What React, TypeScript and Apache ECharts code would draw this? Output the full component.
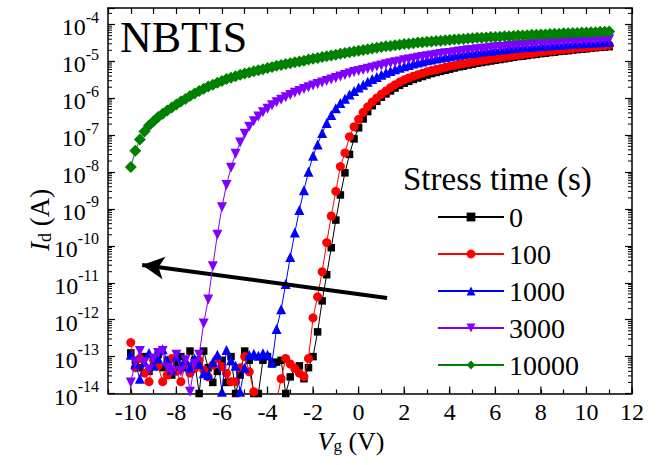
import React, { useEffect, useRef } from "react";
import * as echarts from "echarts";

// Gate voltage sweep (V)
const VG = [
  -10, -9.8, -9.6, -9.4, -9.2, -9, -8.8, -8.6, -8.4, -8.2,
  -8, -7.8, -7.6, -7.4, -7.2, -7, -6.8, -6.6, -6.4, -6.2,
  -6, -5.8, -5.6, -5.4, -5.2, -5, -4.8, -4.6, -4.4, -4.2,
  -4, -3.8, -3.6, -3.4, -3.2, -3, -2.8, -2.6, -2.4, -2.2,
  -2, -1.8, -1.6, -1.4, -1.2, -1, -0.8, -0.6, -0.4, -0.2,
  0, 0.2, 0.4, 0.6, 0.8, 1, 1.2, 1.4, 1.6, 1.8,
  2, 2.2, 2.4, 2.6, 2.8, 3, 3.2, 3.4, 3.6, 3.8,
  4, 4.2, 4.4, 4.6, 4.8, 5, 5.2, 5.4, 5.6, 5.8,
  6, 6.2, 6.4, 6.6, 6.8, 7, 7.2, 7.4, 7.6, 7.8,
  8, 8.2, 8.4, 8.6, 8.8, 9, 9.2, 9.4, 9.6, 9.8,
  10, 10.2, 10.4, 10.6, 10.8, 11,
];

// log10(Id / A) for each stress time
const LOG_ID_0 = [
  -12.9, -13.1, -13.3, -13.0, -13.4, -13.2, -12.95, -13.3, -13.1, -13.5,
  -13.2, -13.0, -13.3, -12.85, -13.1, -14.0, -12.85, -13.3, -13.7, -13.4,
  -13.1, -13.7, -13.0, -14.0, -13.5, -12.85, -13.1, -14.0, -14.0, -13.1,
  -13.0, -13.2, -13.15, -13.1, -14.0, -13.55, -13.3, -13.25, -13.6, -13.3,
  -13.0, -12.33, -11.49, -10.78, -10.05, -9.3, -8.62, -8.02, -7.52, -7.1,
  -6.8, -6.56, -6.36, -6.2, -6.08, -5.97, -5.88, -5.8, -5.72, -5.65,
  -5.59, -5.54, -5.49, -5.45, -5.41, -5.37, -5.33, -5.3, -5.27, -5.24,
  -5.21, -5.18, -5.15, -5.13, -5.1, -5.08, -5.05, -5.03, -5.01, -4.99,
  -4.97, -4.95, -4.93, -4.91, -4.89, -4.87, -4.86, -4.84, -4.82, -4.81,
  -4.79, -4.78, -4.76, -4.75, -4.73, -4.72, -4.71, -4.69, -4.68, -4.67,
  -4.66, -4.64, -4.63, -4.62, -4.61, -4.6,
];
const LOG_ID_100 = [
  -12.62, -13.3, -13.05, -13.45, -13.68, -13.09, -13.25, -13.68, -13.5, -13.05,
  -13.4, -13.68, -13.2, -13.45, -13.32, -13.1, -13.36, -13.55, -13.23, -13.05,
  -13.27, -13.45, -13.68, -13.68, -13.3, -13.0, -13.41, -13.95, -14.4, -14.6,
  -14.3, -14.5, -14.2, -13.6, -13.05, -13.2, -13.32, -13.45, -13.54, -13.05,
  -11.95, -11.38, -10.7, -9.91, -9.19, -8.52, -7.85, -7.48, -7.04, -6.77,
  -6.57, -6.38, -6.23, -6.1, -5.99, -5.89, -5.8, -5.71, -5.63, -5.56,
  -5.5, -5.45, -5.4, -5.36, -5.32, -5.28, -5.25, -5.22, -5.19, -5.16,
  -5.13, -5.11, -5.08, -5.06, -5.04, -5.01, -4.99, -4.97, -4.95, -4.93,
  -4.91, -4.9, -4.88, -4.86, -4.84, -4.83, -4.81, -4.79, -4.78, -4.76,
  -4.75, -4.73, -4.72, -4.71, -4.69, -4.68, -4.67, -4.65, -4.64, -4.63,
  -4.62, -4.61, -4.6, -4.59, -4.57, -4.56,
];
const LOG_ID_1000 = [
  -12.95, -13.2, -13.6, -13.15, -12.9, -13.25, -13.05, -12.8, -13.1, -13.35,
  -13.0, -13.25, -13.1, -13.3, -13.05, -13.2, -13.45, -13.5, -13.15, -12.95,
  -13.95, -12.82, -13.1, -13.25, -13.95, -13.3, -12.96, -12.92, -12.98, -12.91,
  -12.95, -13.15, -12.25, -11.72, -11.03, -10.3, -9.64, -9.03, -8.49, -7.99,
  -7.56, -7.25, -6.94, -6.67, -6.45, -6.27, -6.13, -6.01, -5.9, -5.8,
  -5.71, -5.63, -5.55, -5.48, -5.42, -5.36, -5.31, -5.26, -5.21, -5.17,
  -5.13, -5.1, -5.06, -5.03, -5.0, -4.97, -4.95, -4.92, -4.9, -4.88,
  -4.86, -4.84, -4.82, -4.8, -4.78, -4.77, -4.75, -4.74, -4.72, -4.71,
  -4.69, -4.68, -4.67, -4.65, -4.64, -4.63, -4.62, -4.61, -4.6, -4.59,
  -4.58, -4.57, -4.56, -4.55, -4.54, -4.54, -4.53, -4.52, -4.51, -4.51,
  -4.5, -4.49, -4.49, -4.48, -4.47, -4.47,
];
const LOG_ID_3000 = [
  -13.7, -13.15, -12.85, -13.15, -13.35, -13.05, -12.9, -12.85, -13.3, -13.4,
  -12.95, -13.4, -13.1, -13.95, -13.2, -12.95, -12.1, -11.45, -10.55, -9.7,
  -8.95, -8.35, -7.88, -7.5, -7.2, -6.96, -6.77, -6.62, -6.49, -6.38,
  -6.28, -6.19, -6.11, -6.04, -5.97, -5.91, -5.85, -5.8, -5.75, -5.7,
  -5.65, -5.61, -5.57, -5.53, -5.49, -5.45, -5.41, -5.37, -5.33, -5.29,
  -5.26, -5.23, -5.2, -5.17, -5.14, -5.11, -5.08, -5.05, -5.02, -5.0,
  -4.97, -4.95, -4.93, -4.9, -4.88, -4.86, -4.84, -4.82, -4.8, -4.78,
  -4.77, -4.75, -4.73, -4.72, -4.7, -4.69, -4.67, -4.66, -4.65, -4.63,
  -4.62, -4.61, -4.6, -4.58, -4.57, -4.56, -4.55, -4.54, -4.53, -4.52,
  -4.51, -4.5, -4.5, -4.49, -4.48, -4.47, -4.46, -4.46, -4.45, -4.44,
  -4.44, -4.43, -4.42, -4.42, -4.41, -4.4,
];
const LOG_ID_10000 = [
  -7.86, -7.42, -7.12, -6.9, -6.74, -6.62, -6.51, -6.42, -6.33, -6.25,
  -6.17, -6.09, -6.02, -5.94, -5.87, -5.8, -5.74, -5.68, -5.63, -5.58,
  -5.53, -5.48, -5.44, -5.4, -5.36, -5.33, -5.3, -5.27, -5.24, -5.21,
  -5.18, -5.15, -5.12, -5.1, -5.07, -5.05, -5.02, -5.0, -4.98, -4.95,
  -4.93, -4.91, -4.88, -4.86, -4.84, -4.82, -4.79, -4.77, -4.75, -4.73,
  -4.71, -4.69, -4.67, -4.65, -4.63, -4.61, -4.59, -4.58, -4.56, -4.55,
  -4.53, -4.52, -4.51, -4.49, -4.48, -4.47, -4.46, -4.45, -4.44, -4.43,
  -4.42, -4.41, -4.4, -4.39, -4.38, -4.37, -4.36, -4.36, -4.35, -4.34,
  -4.34, -4.33, -4.32, -4.32, -4.31, -4.3, -4.3, -4.29, -4.28, -4.28,
  -4.27, -4.27, -4.26, -4.25, -4.25, -4.24, -4.24, -4.23, -4.23, -4.22,
  -4.22, -4.21, -4.21, -4.2, -4.2, -4.19,
];

const SERIES_NAMES = ["0", "100", "1000", "3000", "10000"];
const SERIES_VALUES = [LOG_ID_0, LOG_ID_100, LOG_ID_1000, LOG_ID_3000, LOG_ID_10000];
const COLORS = ["#000000", "#ff0000", "#0000ff", "#8000ff", "#008000"];
const SYMBOLS = ["rect", "circle", "triangle", "triangle", "diamond"];
const SYMBOL_ROTATE = [0, 0, 0, 180, 0];
const SYMBOL_SIZE = [7.5, 9, 10, 10, 12];

const X_MIN = -11;
const X_MAX = 12;
const Y_MIN = -14;
const Y_MAX = -3.553;
const X_MAJOR = [-10, -8, -6, -4, -2, 0, 2, 4, 6, 8, 10, 12];
const DECADES = [-14, -13, -12, -11, -10, -9, -8, -7, -6, -5, -4];
const LOG_MINOR_MULT = [2, 3, 4, 5, 6, 7, 8, 9];

// Arrow annotation (data coordinates: Vg, log10 Id)
const ARROW_FROM = [1.25, -11.41];
const ARROW_TO = [-9.5, -10.52];

const FONT = "Liberation Serif";

function renderTicks(_params: any, api: any) {
  const children: any[] = [];
  for (const d of DECADES) {
    for (const m of LOG_MINOR_MULT) {
      const v = d + Math.log10(m);
      if (v > Y_MAX) continue;
      const l = api.coord([X_MIN, v]);
      const r = api.coord([X_MAX, v]);
      children.push({
        type: "line",
        shape: { x1: l[0], y1: l[1], x2: l[0] + 4, y2: l[1] },
        style: { stroke: "#000", lineWidth: 1 },
      });
      children.push({
        type: "line",
        shape: { x1: r[0], y1: r[1], x2: r[0] - 4, y2: r[1] },
        style: { stroke: "#000", lineWidth: 1 },
      });
    }
  }
  for (const t of X_MAJOR) {
    const p = api.coord([t, Y_MIN]);
    children.push({
      type: "line",
      shape: { x1: p[0], y1: p[1], x2: p[0], y2: p[1] - 7 },
      style: { stroke: "#000", lineWidth: 1.2 },
    });
  }
  return { type: "group", children };
}

export default function App() {
  const ref = useRef<HTMLDivElement>(null);
  useEffect(() => {
    const chart = echarts.init(ref.current as HTMLDivElement, null, { renderer: "svg" });
    const axisLine = { show: true, onZero: false, lineStyle: { color: "#000", width: 1.5 } };
    const lineSeries = SERIES_NAMES.map((name, k) => ({
      name,
      type: "line",
      xAxisIndex: 0,
      yAxisIndex: 0,
      data: VG.map((v, i) => [v, SERIES_VALUES[k][i]]),
      symbol: SYMBOLS[k],
      symbolSize: SYMBOL_SIZE[k],
      symbolRotate: SYMBOL_ROTATE[k],
      showAllSymbol: true,
      clip: true,
      itemStyle: { color: COLORS[k] },
      lineStyle: { color: COLORS[k], width: 1 },
      z: 2 + k,
      ...(k === 0
        ? {
            markLine: {
              silent: true,
              animation: false,
              symbol: ["none", "arrow"],
              symbolSize: [17, 22],
              label: { show: false },
              lineStyle: { color: "#000", width: 4, type: "solid" },
              emphasis: { disabled: true },
              data: [[{ coord: ARROW_FROM }, { coord: ARROW_TO }]],
            },
          }
        : {}),
    }));

    const option: any = {
      animation: false,
      backgroundColor: "#fff",
      textStyle: { fontFamily: FONT, color: "#000" },
      grid: { left: 108, right: 32, top: 8, bottom: 71.5, containLabel: false, outerBoundsMode: "none" },
      xAxis: [
        {
          type: "value",
          position: "bottom",
          min: X_MIN,
          max: X_MAX,
          interval: 1,
          axisLine,
          splitLine: { show: false },
          axisTick: { show: true, inside: true, length: 4, lineStyle: { color: "#000", width: 1.2 } },
          axisLabel: {
            show: true,
            margin: 6,
            fontSize: 24,
            lineHeight: 24,
            fontFamily: FONT,
            color: "#000",
            hideOverlap: false,
            showMinLabel: true,
            showMaxLabel: true,
            formatter: (v: number) => (Math.abs(v % 2) < 1e-6 ? String(v) : ""),
          },
        },
        {
          type: "value",
          position: "top",
          min: X_MIN,
          max: X_MAX,
          interval: 1,
          axisLine,
          splitLine: { show: false },
          axisTick: { show: true, inside: true, length: 6, lineStyle: { color: "#000", width: 1.2 } },
          axisLabel: { show: false },
        },
      ],
      yAxis: [
        {
          type: "value",
          position: "left",
          min: Y_MIN,
          max: Y_MAX,
          interval: 1,
          axisLine,
          splitLine: { show: false },
          axisTick: { show: true, inside: true, length: 7, lineStyle: { color: "#000", width: 1.2 } },
          axisLabel: {
            show: true,
            margin: 9,
            hideOverlap: false,
            formatter: (v: number) =>
              Math.abs(v - Math.round(v)) < 1e-6 ? `{b|10}{s|${Math.round(v)}}` : "",
            rich: {
              b: { fontSize: 24, lineHeight: 30, verticalAlign: "bottom", fontFamily: FONT, color: "#000" },
              s: { fontSize: 16, lineHeight: 16, verticalAlign: "top", fontFamily: FONT, color: "#000" },
            },
          },
        },
        {
          type: "value",
          position: "right",
          min: Y_MIN,
          max: Y_MAX,
          interval: 1,
          axisLine,
          splitLine: { show: false },
          axisTick: { show: true, inside: true, length: 7, lineStyle: { color: "#000", width: 1.2 } },
          axisLabel: { show: false },
        },
      ],
      legend: {
        orient: "vertical",
        left: 432,
        top: 197,
        itemWidth: 66,
        itemHeight: 11,
        itemGap: 7,
        selectedMode: false,
        textStyle: { fontSize: 28, lineHeight: 30, fontFamily: FONT, color: "#000" },
        data: SERIES_NAMES,
      },
      series: [
        ...lineSeries,
        {
          type: "custom",
          name: "ticks",
          xAxisIndex: 0,
          yAxisIndex: 0,
          silent: true,
          z: 20,
          data: [[0, -10]],
          renderItem: renderTicks,
        },
      ],
      graphic: [
        {
          type: "text",
          x: 120,
          y: 37,
          style: {
            text: "NBTIS",
            fontSize: 44,
            fontFamily: FONT,
            fill: "#000",
            align: "left",
            verticalAlign: "middle",
          },
        },
        {
          type: "text",
          x: 403,
          y: 179,
          style: {
            text: "Stress time (s)",
            fontSize: 33,
            fontFamily: FONT,
            fill: "#000",
            align: "left",
            verticalAlign: "middle",
          },
        },
        {
          type: "text",
          x: 351,
          y: 441,
          style: {
            text: "{i|V}{s|g}{n| (V)}",
            align: "center",
            verticalAlign: "middle",
            rich: {
              i: { fontSize: 26, fontStyle: "italic", fontFamily: FONT, fill: "#000", lineHeight: 26, verticalAlign: "top" },
              s: { fontSize: 17, fontFamily: FONT, fill: "#000", lineHeight: 14, verticalAlign: "bottom" },
              n: { fontSize: 26, fontFamily: FONT, fill: "#000", lineHeight: 26, verticalAlign: "top" },
            },
          },
        },
        {
          type: "text",
          x: 40,
          y: 220,
          rotation: Math.PI / 2,
          style: {
            text: "{i|I}{s|d}{n| (A)}",
            align: "center",
            verticalAlign: "middle",
            rich: {
              i: { fontSize: 27, fontStyle: "italic", fontFamily: FONT, fill: "#000", lineHeight: 27, verticalAlign: "top" },
              s: { fontSize: 18, fontFamily: FONT, fill: "#000", lineHeight: 14, verticalAlign: "bottom" },
              n: { fontSize: 27, fontFamily: FONT, fill: "#000", lineHeight: 27, verticalAlign: "top" },
            },
          },
        },
      ],
    };
    chart.setOption(option);
    return () => chart.dispose();
  }, []);
  return (
    <div
      ref={ref}
      style={{ position: "fixed", left: 0, top: 0, width: 664, height: 465, background: "#fff" }}
    />
  );
}
